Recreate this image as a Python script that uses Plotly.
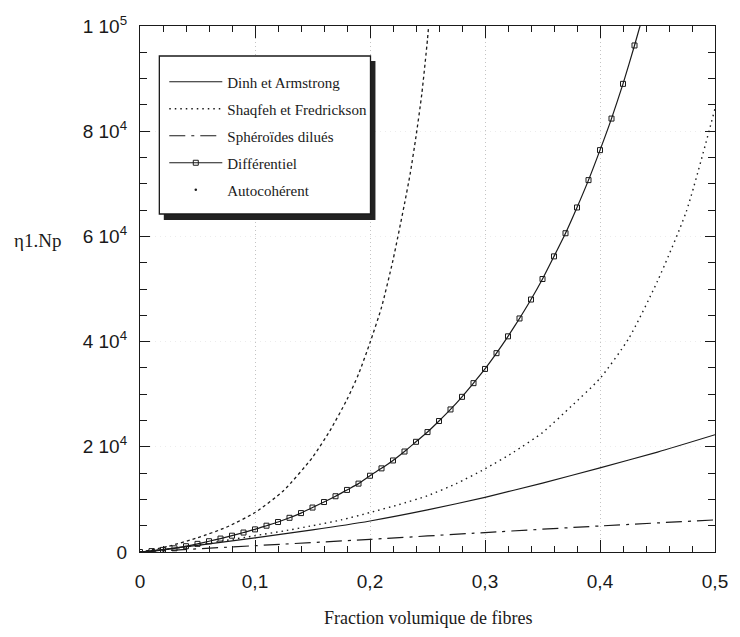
import plotly.graph_objects as go

# ---- data ----
phi_da = [0, 0.05, 0.1, 0.15, 0.2, 0.25, 0.3, 0.35, 0.4, 0.45, 0.5]
eta_da = [0, 1250, 2700, 4200, 5900, 8000, 10400, 13100, 16000, 19000, 22300]

phi_sf = [0, 0.025, 0.05, 0.075, 0.1, 0.125, 0.15, 0.175, 0.2, 0.225, 0.25,
          0.275, 0.3, 0.325, 0.35, 0.375, 0.4, 0.425, 0.45, 0.475, 0.5]
eta_sf = [0, 550, 1300, 2200, 3100, 4000, 5000, 6100, 7500, 9000, 10700,
          13000, 15800, 19000, 22700, 27700, 33000, 40600, 51500, 64700, 84300]

phi_sd = [0, 0.1, 0.2, 0.3, 0.4, 0.5]
eta_sd = [0, 1200, 2400, 3700, 4950, 6100]

phi_diff = [0.00, 0.01, 0.02, 0.03, 0.04, 0.05, 0.06, 0.07, 0.08, 0.09,
            0.10, 0.11, 0.12, 0.13, 0.14, 0.15, 0.16, 0.17, 0.18, 0.19,
            0.20, 0.21, 0.22, 0.23, 0.24, 0.25, 0.26, 0.27, 0.28, 0.29,
            0.30, 0.31, 0.32, 0.33, 0.34, 0.35, 0.36, 0.37, 0.38, 0.39,
            0.40, 0.41, 0.42, 0.43, 0.44]
eta_diff = [0, 170, 400, 700, 1100, 1550, 2050, 2550, 3100, 3700,
            4300, 5000, 5700, 6500, 7400, 8450, 9500, 10600, 11800, 13000,
            14500, 15900, 17400, 19100, 20950, 22800, 24900, 27100, 29500, 32100,
            34800, 37800, 41000, 44400, 48000, 51900, 56200, 60600, 65500, 70700,
            76400, 82400, 89000, 96300, 104000]

phi_ac = [0, 0.025, 0.05, 0.075, 0.1, 0.125, 0.15, 0.165, 0.18, 0.19, 0.2,
          0.21, 0.22, 0.23, 0.235, 0.24, 0.245, 0.25, 0.2525]
eta_ac = [0, 1100, 2700, 4700, 7500, 11700, 18000, 23000, 29000, 33800, 39800,
          46500, 55500, 66200, 72000, 79000, 87000, 97500, 104000]

x_tickvals = [0, 0.1, 0.2, 0.3, 0.4, 0.5]
x_ticktext = ["0", "0,1", "0,2", "0,3", "0,4", "0,5"]
y_tickvals = [0, 20000, 40000, 60000, 80000, 100000]
y_ticktext = ["0", "2 10<sup>4</sup>", "4 10<sup>4</sup>", "6 10<sup>4</sup>",
              "8 10<sup>4</sup>", "1 10<sup>5</sup>"]

names = ["Dinh et Armstrong", "Shaqfeh et Fredrickson", "Sphéroïdes dilués",
         "Différentiel", "Autocohérent"]

INK = "#1a1a1a"
SERIF = "Liberation Serif"
SANS = "Liberation Sans"

fig = go.Figure()

# Autocohérent curve (dotted), legend via a marker-only entry
fig.add_trace(go.Scatter(x=phi_ac, y=eta_ac, mode="lines", showlegend=False,
                         line=dict(color=INK, width=1.3, dash="3px,3px", shape="spline", smoothing=0.6),
                         hoverinfo="skip"))
fig.add_trace(go.Scatter(x=phi_sf, y=eta_sf, mode="lines", name=names[1], legendgroup="g2", legendrank=2,
                         line=dict(color=INK, width=1.4, dash="1.5px,4px", shape="spline", smoothing=0.6)))
fig.add_trace(go.Scatter(x=phi_sd, y=eta_sd, mode="lines", name=names[2], legendgroup="g3", legendrank=3,
                         line=dict(color=INK, width=1.2, dash="16px,6px,3px,6px", shape="spline", smoothing=0.6)))
fig.add_trace(go.Scatter(x=phi_da, y=eta_da, mode="lines", name=names[0], legendgroup="g1", legendrank=1,
                         line=dict(color=INK, width=1.2, shape="spline", smoothing=0.6)))
fig.add_trace(go.Scatter(x=phi_diff, y=eta_diff, mode="lines+markers", name=names[3], legendgroup="g4", legendrank=4,
                         line=dict(color=INK, width=1.2, shape="spline", smoothing=0.6),
                         marker=dict(symbol="square-open", size=5, color=INK, line=dict(width=1, color=INK))))
fig.add_trace(go.Scatter(x=[None], y=[None], mode="markers", name=names[4], legendgroup="g5", legendrank=5,
                         marker=dict(symbol="circle", size=2.5, color=INK)))

# plot area in pixels: x 140..720, y 26..552
W, H = 740, 637
L, R, T, B = 140, 20, 26, 85
pw, ph = W - L - R, H - T - B


def px(xp):
    return (xp - L) / pw


def py(yp):
    return (H - B - yp) / ph


shapes = [
    dict(type="rect", xref="paper", yref="paper", layer="above",
         x0=px(164), x1=px(377.5), y0=py(220), y1=py(61),
         fillcolor="#222222", line=dict(width=0)),
    dict(type="rect", xref="paper", yref="paper", layer="above",
         x0=px(159.5), x1=px(372.5), y0=py(214), y1=py(56),
         fillcolor="white", line=dict(color=INK, width=1.3)),
]

fig.update_layout(
    width=W, height=H, autosize=False,
    margin=dict(l=L, r=R, t=T, b=B),
    paper_bgcolor="white", plot_bgcolor="white",
    shapes=shapes,
    showlegend=True,
    legend=dict(x=px(164.5), y=py(65.5), xanchor="left", yanchor="top",
                bgcolor="rgba(0,0,0,0)", borderwidth=0,
                font=dict(family=SERIF, size=15, color=INK),
                traceorder="grouped", tracegroupgap=4.5, itemwidth=53),
    annotations=[
        dict(text="Fraction volumique de fibres", xref="paper", yref="paper",
             x=px(430), y=py(618), xanchor="center", yanchor="middle", showarrow=False,
             font=dict(family=SERIF, size=18, color=INK)),
        dict(text="η1.Np", xref="paper", yref="paper",
             x=px(37), y=py(240), xanchor="center", yanchor="middle", showarrow=False,
             font=dict(family=SERIF, size=19, color=INK)),
    ],
)

fig.update_xaxes(range=[0, 0.5], tickvals=x_tickvals, ticktext=x_ticktext,
                 ticks="inside", ticklen=12, tickwidth=1, tickcolor=INK,
                 showline=True, linecolor=INK, linewidth=1.3, mirror="ticks",
                 showgrid=True, gridcolor="#c4c4c4", griddash="1px,3px", gridwidth=1,
                 zeroline=False, ticklabelstandoff=12,
                 tickfont=dict(family=SANS, size=19, color=INK),
                 minor=dict(ticks="inside", ticklen=6, dtick=0.02, tick0=0,
                            tickcolor=INK, showgrid=False))
fig.update_yaxes(range=[0, 100000], tickvals=y_tickvals, ticktext=y_ticktext,
                 ticks="inside", ticklen=10, tickwidth=1, tickcolor=INK,
                 showline=True, linecolor=INK, linewidth=1.3, mirror="ticks",
                 showgrid=True, gridcolor="#ececec", griddash="1px,4px", gridwidth=1,
                 zeroline=False, ticklabelstandoff=8,
                 tickfont=dict(family=SANS, size=19, color=INK),
                 minor=dict(ticks="inside", ticklen=7, dtick=5000, tick0=0,
                            tickcolor=INK, showgrid=False))

fig.write_html("out.html")
